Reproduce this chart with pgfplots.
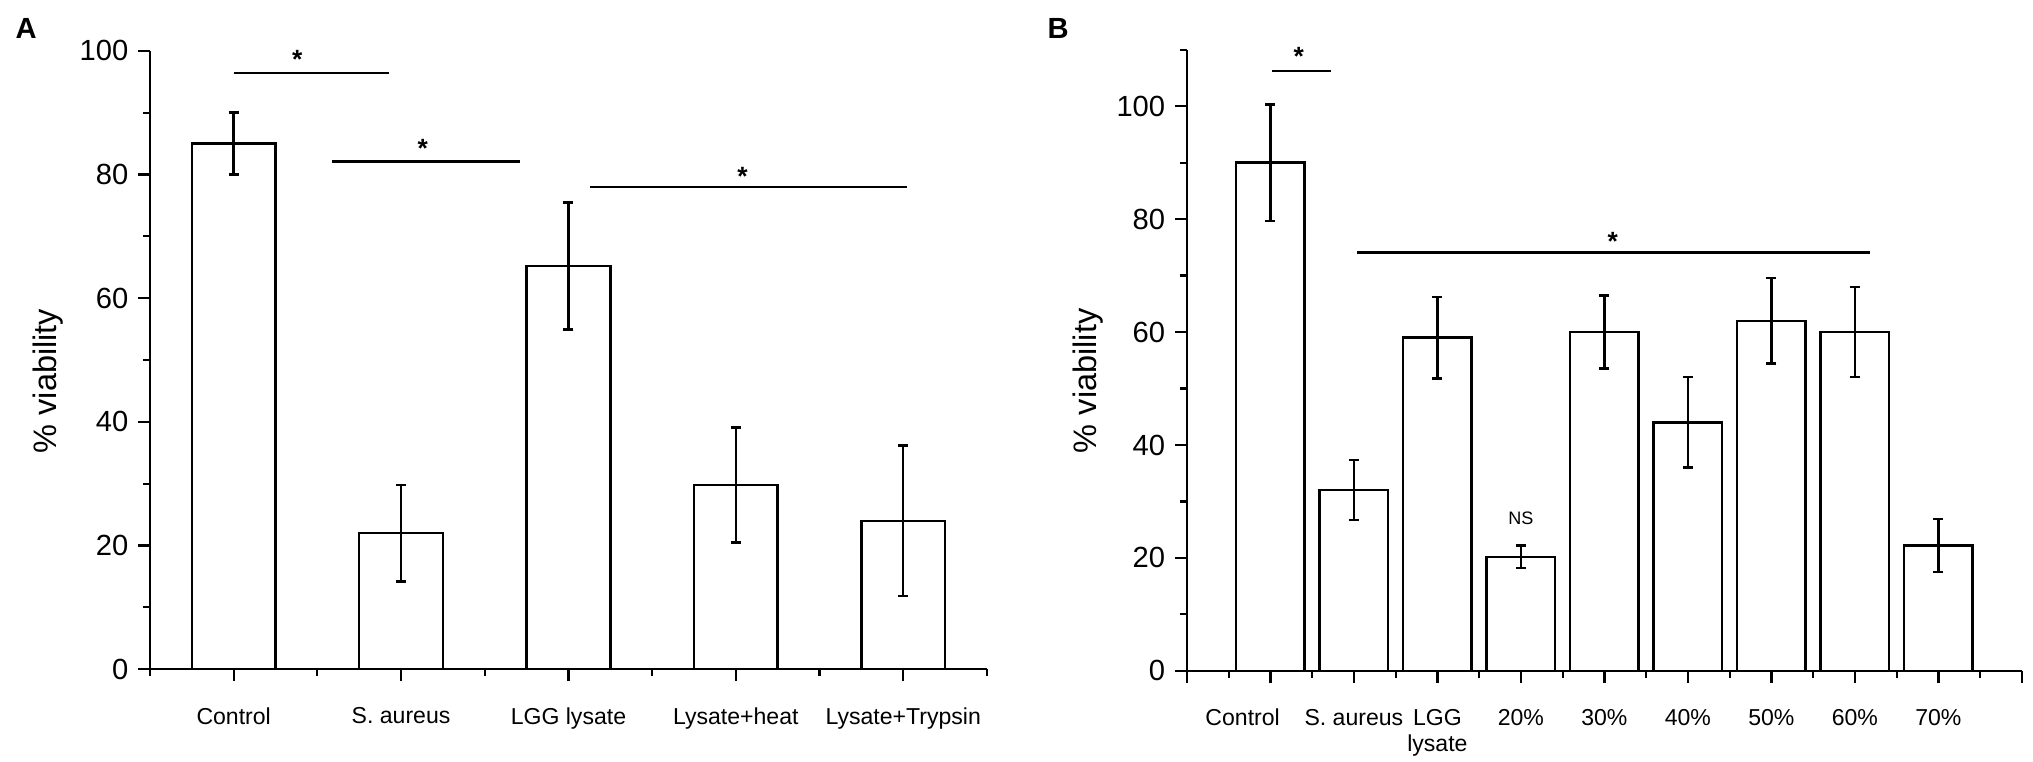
\documentclass[border=0pt]{standalone}
\usepackage{fontspec}
\setmainfont{Liberation Sans}
\usepackage{pgfplots}
\usepackage{pgfplotstable}
\pgfplotsset{compat=1.18}

\pgfplotstableread{
x y e
1 85.0 5.0
2 22.0 7.8
3 65.2 10.3
4 29.8 9.3
5 24.0 12.2
}\dataA

\pgfplotstableread{
x y e
1 90.0 10.3
2 32.0 5.3
3 59.0 7.2
4 20.2 2.0
5 60.0 6.5
6 44.0 8.0
7 62.0 7.6
8 60.0 8.0
9 22.2 4.7
}\dataB

\tikzset{sigstar/.style={font=\bfseries\fontsize{9.5}{10}\selectfont, inner sep=0pt, anchor=base}}

\pgfplotsset{
  panel/.style={
    scale only axis,
    clip=false,
    axis x line*=bottom, axis y line*=left,
    tick align=outside,
    major tick length=4.3pt, minor tick length=2.5pt,
    every tick/.style={black, line width=0.8pt},
    axis line style={line width=0.9pt},
    ymin=0,
    /pgf/number format/assume math mode=true,
    yticklabel style={font=\fontsize{10.5}{12}\selectfont},
    xticklabel style={font=\fontsize{8.3}{9.5}\selectfont, align=center, yshift=-6pt},
    ylabel style={font=\fontsize{11.7}{13}\selectfont},
    ylabel={\% viability},
  },
  bars/.style={
    ybar, draw=black, fill=white, line width=0.9pt,
    error bars/y dir=both, error bars/y explicit,
    error bars/error mark=-,
    error bars/error bar style={line width=0.9pt},
    error bars/error mark options={rotate=90, line width=0.9pt, mark size=1.8pt},
  },
  sig/.style={black, line width=0.9pt, forget plot},
}

\begin{document}
\begin{tikzpicture}
\useasboundingbox (0,0) rectangle (731.9pt,274.3pt);

\node[font=\bfseries\fontsize{10.5}{12}\selectfont] at (9.4pt,263.9pt) {A};
\node[font=\bfseries\fontsize{10.5}{12}\selectfont] at (380.9pt,264.2pt) {B};

\begin{axis}[panel,
  at={(54pt,33.4pt)}, anchor=south west,
  width=301.3pt, height=222.6pt,
  xmin=0.5, xmax=5.5, ymax=100,
  xtick={1,...,5},
  xticklabels={Control,S. aureus,LGG lysate,Lysate+heat,Lysate+Trypsin},
  minor xtick={0.5,1.5,...,5.5},
  ytick={0,20,...,100},
  minor ytick={10,30,...,90},
  ylabel style={at={(axis description cs:-0.122,0.466)}, anchor=center},
]
\addplot[bar width=0.5, bars] table[x=x, y=y, y error=e] {\dataA};
\addplot[sig] coordinates {(1.0,96.4) (1.93,96.4)};
\addplot[sig] coordinates {(1.59,82.1) (2.71,82.1)};
\addplot[sig] coordinates {(3.13,78.0) (5.02,78.0)};
\node[sigstar] at (axis cs:1.38,97.1) {*};
\node[sigstar] at (axis cs:2.13,82.8) {*};
\node[sigstar] at (axis cs:4.04,78.3) {*};
\end{axis}

\begin{axis}[panel,
  at={(427.3pt,32.8pt)}, anchor=south west,
  width=300.6pt, height=223.6pt,
  xmin=0, xmax=10, ymax=110,
  xtick={0,2,3,...,10},
  xticklabels={,S. aureus,{LGG\\lysate},20\%,30\%,40\%,50\%,60\%,70\%,},
  extra x ticks={1},
  extra x tick labels={Control},
  extra x tick style={xticklabel style={xshift=-10pt}},
  minor xtick={0.5,1.5,...,9.5},
  ytick={0,20,...,100},
  minor ytick={10,30,...,110},
  ylabel style={at={(axis description cs:-0.1186,0.467)}, anchor=center},
]
\addplot[bar width=0.82, bars] table[x=x, y=y, y error=e] {\dataB};
\addplot[sig] coordinates {(1.02,106.2) (1.72,106.2)};
\addplot[sig] coordinates {(2.04,74.1) (8.18,74.1)};
\node[sigstar] at (axis cs:1.34,107.2) {*};
\node[sigstar] at (axis cs:5.1,74.4) {*};
\node[font=\fontsize{6.5}{7}\selectfont] at (axis cs:4,27) {NS};
\end{axis}
\end{tikzpicture}
\end{document}
